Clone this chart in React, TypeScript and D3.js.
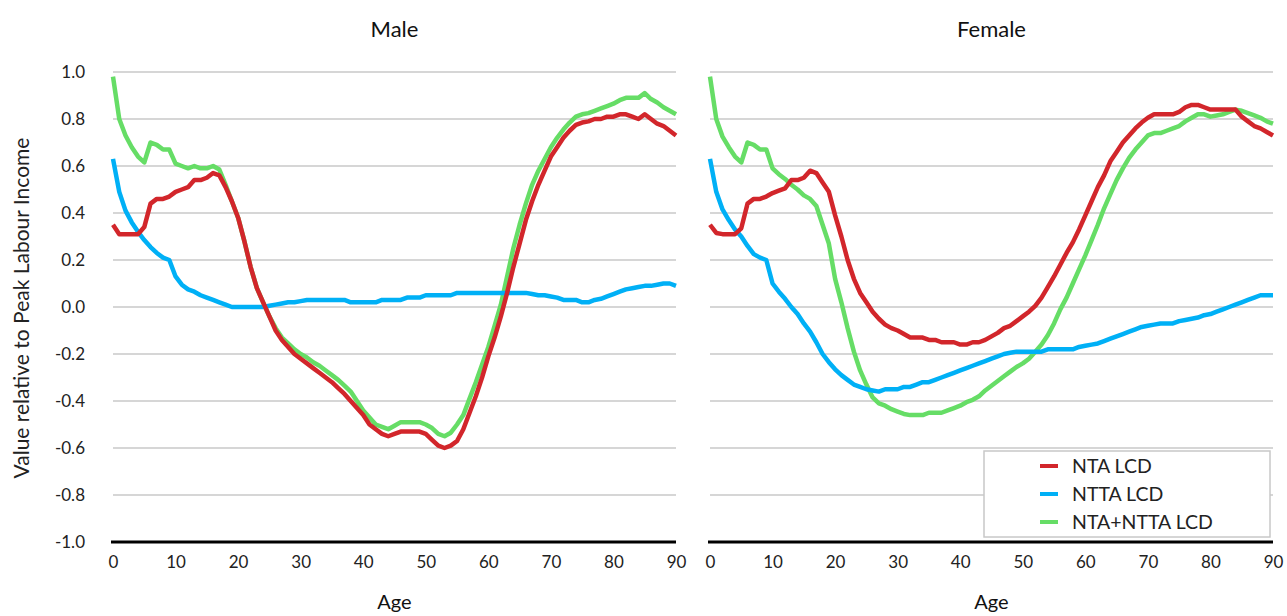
import * as d3 from "d3";
import { useEffect, useRef } from "react";

const ages = d3.range(0, 91);

const maleNTA = [
  0.35, 0.31, 0.31, 0.31, 0.31, 0.34, 0.44, 0.46, 0.46, 0.47,
  0.49, 0.5, 0.51, 0.54, 0.54, 0.55, 0.57, 0.56, 0.51, 0.45,
  0.38, 0.28, 0.17, 0.08, 0.02, -0.04, -0.1, -0.14, -0.17, -0.2,
  -0.22, -0.24, -0.26, -0.28, -0.3, -0.32, -0.345, -0.37, -0.4, -0.43,
  -0.46, -0.5, -0.52, -0.54, -0.55, -0.54, -0.53, -0.53, -0.53, -0.53,
  -0.54, -0.565, -0.59, -0.6, -0.59, -0.57, -0.52, -0.45, -0.38, -0.3,
  -0.21, -0.13, -0.04, 0.06, 0.17, 0.27, 0.37, 0.45, 0.52, 0.58,
  0.64, 0.68, 0.72, 0.75, 0.775, 0.785, 0.79, 0.8, 0.8, 0.81,
  0.81, 0.82, 0.82, 0.81, 0.8, 0.82, 0.8, 0.78, 0.77, 0.75,
  0.73,
];
const maleNTTA = [
  0.63, 0.49, 0.41, 0.36, 0.32, 0.285, 0.255, 0.23, 0.21, 0.2,
  0.13, 0.095, 0.075, 0.065, 0.05, 0.04, 0.03, 0.02, 0.01, 0.0,
  0.0, 0.0, 0.0, 0.0, 0.0, 0.005, 0.01, 0.015, 0.02, 0.02,
  0.025, 0.03, 0.03, 0.03, 0.03, 0.03, 0.03, 0.03, 0.02, 0.02,
  0.02, 0.02, 0.02, 0.03, 0.03, 0.03, 0.03, 0.04, 0.04, 0.04,
  0.05, 0.05, 0.05, 0.05, 0.05, 0.06, 0.06, 0.06, 0.06, 0.06,
  0.06, 0.06, 0.06, 0.06, 0.06, 0.06, 0.06, 0.055, 0.05, 0.05,
  0.045, 0.04, 0.03, 0.03, 0.03, 0.02, 0.02, 0.03, 0.035, 0.045,
  0.055, 0.065, 0.075, 0.08, 0.085, 0.09, 0.09, 0.095, 0.1, 0.1,
  0.09,
];
const maleTotal = [
  0.98, 0.8, 0.73, 0.68, 0.64, 0.615, 0.7, 0.69, 0.67, 0.67,
  0.61, 0.6, 0.59, 0.6, 0.59, 0.59, 0.6, 0.585, 0.52, 0.45,
  0.38, 0.28, 0.17, 0.08, 0.02, -0.04, -0.09, -0.13, -0.155, -0.18,
  -0.2, -0.215, -0.235, -0.25, -0.27, -0.29, -0.31, -0.335, -0.36, -0.4,
  -0.44, -0.47, -0.5, -0.51, -0.52, -0.505, -0.49, -0.49, -0.49, -0.49,
  -0.5, -0.515, -0.54, -0.55, -0.535, -0.5, -0.46, -0.39, -0.32, -0.245,
  -0.17, -0.08, 0.01, 0.13, 0.25, 0.35, 0.44, 0.52, 0.58, 0.63,
  0.68, 0.72, 0.755, 0.785, 0.81, 0.82, 0.825, 0.835, 0.845, 0.855,
  0.865, 0.88, 0.89, 0.89, 0.89, 0.91, 0.885, 0.87, 0.85, 0.835,
  0.82,
];

const femaleNTA = [
  0.35, 0.315, 0.31, 0.31, 0.31, 0.335, 0.44, 0.46, 0.46, 0.47,
  0.485, 0.495, 0.505, 0.54, 0.54, 0.55, 0.58, 0.57, 0.53, 0.49,
  0.39, 0.3, 0.2, 0.12, 0.06, 0.02, -0.02, -0.05, -0.075, -0.09,
  -0.1, -0.115, -0.13, -0.13, -0.13, -0.14, -0.14, -0.15, -0.15, -0.15,
  -0.16, -0.16, -0.15, -0.15, -0.14, -0.125, -0.11, -0.09, -0.08, -0.06,
  -0.04, -0.02, 0.005, 0.04, 0.085, 0.13, 0.18, 0.23, 0.275, 0.33,
  0.39, 0.45, 0.51, 0.56, 0.62, 0.66, 0.7, 0.73, 0.76, 0.785,
  0.805, 0.82, 0.82, 0.82, 0.82, 0.83, 0.85, 0.86, 0.86, 0.85,
  0.84, 0.84, 0.84, 0.84, 0.84, 0.81, 0.79, 0.77, 0.76, 0.745,
  0.73,
];
const femaleNTTA = [
  0.63, 0.49, 0.415, 0.37, 0.33, 0.3, 0.26, 0.225, 0.21, 0.2,
  0.1, 0.065, 0.035, 0.0, -0.03, -0.07, -0.105, -0.15, -0.2, -0.235,
  -0.265, -0.29, -0.31, -0.33, -0.34, -0.35, -0.355, -0.36, -0.35, -0.35,
  -0.35, -0.34, -0.34, -0.33, -0.32, -0.32, -0.31, -0.3, -0.29, -0.28,
  -0.27, -0.26, -0.25, -0.24, -0.23, -0.22, -0.21, -0.2, -0.195, -0.19,
  -0.19, -0.19, -0.19, -0.19, -0.18, -0.18, -0.18, -0.18, -0.18, -0.17,
  -0.165, -0.16, -0.155, -0.145, -0.135, -0.125, -0.115, -0.105, -0.095, -0.085,
  -0.08, -0.075, -0.07, -0.07, -0.07, -0.06, -0.055, -0.05, -0.045, -0.035,
  -0.03, -0.02, -0.01, 0.0, 0.01, 0.02, 0.03, 0.04, 0.05, 0.05,
  0.05,
];
const femaleTotal = [
  0.98, 0.8, 0.725, 0.68, 0.64, 0.615, 0.7, 0.69, 0.67, 0.67,
  0.59, 0.565, 0.545, 0.52, 0.5, 0.475, 0.46, 0.43, 0.35, 0.27,
  0.12, 0.02, -0.09, -0.19, -0.27, -0.33, -0.385, -0.41, -0.42, -0.435,
  -0.445, -0.455, -0.46, -0.46, -0.46, -0.45, -0.45, -0.45, -0.44, -0.43,
  -0.42, -0.405, -0.395, -0.38, -0.355, -0.335, -0.315, -0.295, -0.275, -0.255,
  -0.24, -0.22, -0.19, -0.16, -0.12, -0.07, -0.01, 0.04, 0.1, 0.16,
  0.22, 0.285, 0.35, 0.42, 0.48, 0.54, 0.59, 0.635, 0.67, 0.7,
  0.73, 0.74, 0.74, 0.75, 0.76, 0.77, 0.79, 0.805, 0.82, 0.82,
  0.81, 0.815, 0.82, 0.83, 0.84, 0.835, 0.825, 0.815, 0.805, 0.79,
  0.78,
];

const yTicks = [-1, -0.8, -0.6, -0.4, -0.2, 0, 0.2, 0.4, 0.6, 0.8, 1];
const xTicks = [0, 10, 20, 30, 40, 50, 60, 70, 80, 90];

const seriesNames = ["NTA LCD", "NTTA LCD", "NTA+NTTA LCD"];
const seriesColors = ["#d2262b", "#00b0f6", "#66dd66"];

const panels = [
  { title: "Male", values: [maleNTA, maleNTTA, maleTotal], x0: 113, x1: 676 },
  { title: "Female", values: [femaleNTA, femaleNTTA, femaleTotal], x0: 710, x1: 1273 },
];

const FONT = "Lato, 'Noto Sans', sans-serif";

const App = () => {
  const chartRef = useRef(null);
  const width = 1287;
  const height = 616;

  useEffect(() => {
    const svg = d3.select(chartRef.current);
    svg.selectAll("*").remove();

    const y = d3.scaleLinear().domain([-1, 1]).range([542, 72]);

    panels.forEach((p, pi) => {
      const x = d3.scaleLinear().domain([0, 90]).range([p.x0, p.x1]);
      const g = svg.append("g");

      // grid
      g.selectAll(".grid")
        .data(yTicks.filter(t => t > -1))
        .enter()
        .append("line")
        .attr("x1", p.x0)
        .attr("x2", p.x1)
        .attr("y1", d => y(d))
        .attr("y2", d => y(d))
        .style("stroke", "#c8c8c8")
        .style("stroke-width", 1.5);

      // x axis
      const xAxis = d3.axisBottom(x).tickValues(xTicks).tickSize(0).tickPadding(14);
      const ax = g.append("g")
        .attr("transform", `translate(0, ${y(-1)})`)
        .call(xAxis);
      ax.select(".domain").remove();
      ax.selectAll("text")
        .style("font-family", FONT)
        .style("font-size", "17px")
        .style("fill", "#222");
      g.append("line")
        .attr("x1", p.x0 - 2)
        .attr("x2", p.x1)
        .attr("y1", y(-1))
        .attr("y2", y(-1))
        .style("stroke", "#000")
        .style("stroke-width", 3);

      if (pi === 0) {
        const yAxis = d3.axisLeft(y).tickValues(yTicks).tickSize(0).tickPadding(28)
          .tickFormat(d => (+d).toFixed(1));
        const ay = g.append("g")
          .attr("transform", `translate(${p.x0}, 0)`)
          .call(yAxis);
        ay.select(".domain").remove();
        ay.selectAll("text")
          .style("font-family", FONT)
          .style("font-size", "17px")
          .style("fill", "#222");
      }

      // title
      g.append("text")
        .attr("x", (p.x0 + p.x1) / 2)
        .attr("y", 37)
        .attr("text-anchor", "middle")
        .style("font-family", FONT)
        .style("font-size", "22px")
        .style("fill", "#111")
        .text(p.title);

      // x label
      g.append("text")
        .attr("x", (p.x0 + p.x1) / 2)
        .attr("y", 609)
        .attr("text-anchor", "middle")
        .style("font-family", FONT)
        .style("font-size", "20px")
        .style("fill", "#111")
        .text("Age");

      const line = d3.line<number>()
        .x((d, i) => x(ages[i]))
        .y(d => y(d));

      // draw total first, red on top
      [2, 1, 0].forEach(si => {
        g.append("path")
          .datum(p.values[si])
          .attr("d", line)
          .style("fill", "none")
          .style("stroke", seriesColors[si])
          .style("stroke-width", 4.5)
          .style("stroke-linejoin", "round");
      });
    });

    // y label
    svg.append("text")
      .attr("transform", `translate(29, 308) rotate(-90)`)
      .attr("text-anchor", "middle")
      .style("font-family", FONT)
      .style("font-size", "21px")
      .style("fill", "#222")
      .text("Value relative to Peak Labour Income");

    // legend
    const lg = svg.append("g").attr("transform", "translate(984, 451)");
    lg.append("rect")
      .attr("width", 286)
      .attr("height", 86)
      .style("fill", "#fff")
      .style("stroke", "#c8c8c8")
      .style("stroke-width", 1.5);
    seriesNames.forEach((name, i) => {
      const yy = 15 + i * 28;
      lg.append("line")
        .attr("x1", 56)
        .attr("x2", 74)
        .attr("y1", yy)
        .attr("y2", yy)
        .style("stroke", seriesColors[i])
        .style("stroke-width", 4);
      lg.append("text")
        .attr("x", 88)
        .attr("y", yy)
        .attr("dy", "0.35em")
        .style("font-family", FONT)
        .style("font-size", "19.5px")
        .style("fill", "#222")
        .text(name);
    });
  }, []);

  return (
    <svg
      ref={chartRef}
      width={width}
      height={height}
      style={{ position: "absolute", left: 0, top: 0, background: "#fff" }}
    ></svg>
  );
};

export default App;
